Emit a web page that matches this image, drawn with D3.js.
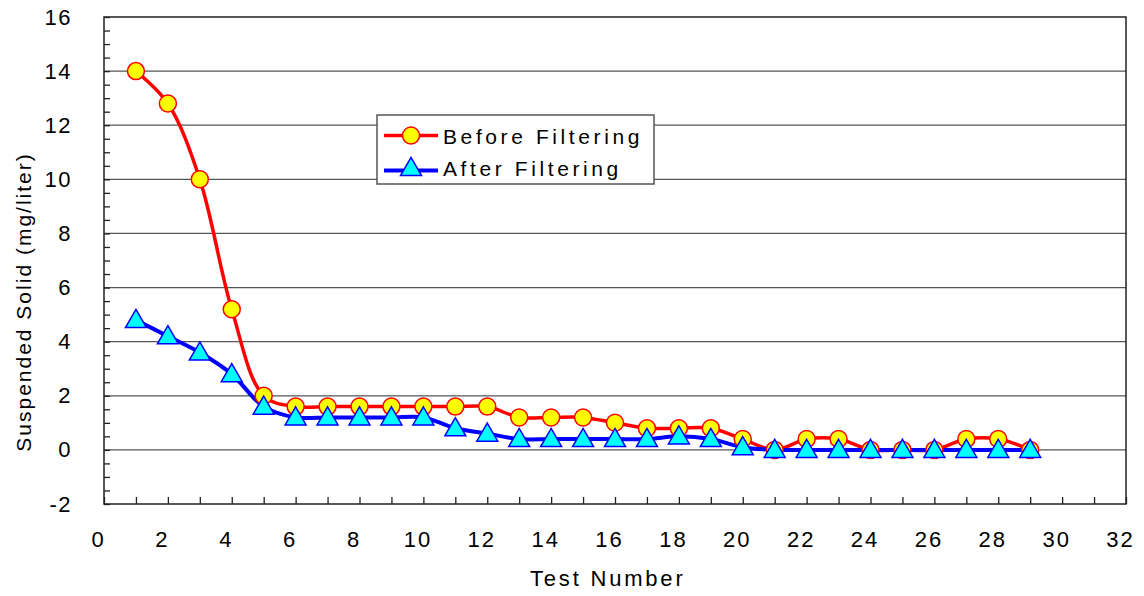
<!DOCTYPE html>
<html>
<head>
<meta charset="utf-8">
<script src="https://cdn.jsdelivr.net/npm/d3@7"></script>
<style>
  body { margin: 0; background: #fff; }
  svg { display: block; font-family: "Liberation Sans", Arial, sans-serif; }
</style>
</head>
<body>
<svg width="1144" height="596"></svg>
<script>
// test numbers and measured suspended solids (mg/liter)
const tests = d3.range(1, 30);
const before = [14, 12.8, 10, 5.2, 2, 1.6, 1.6, 1.6, 1.6, 1.6, 1.6, 1.6, 1.2, 1.2, 1.2,
                1.0, 0.8, 0.8, 0.8, 0.4, 0, 0.4, 0.4, 0, 0, 0, 0.4, 0.4, 0];
const after = [4.8, 4.2, 3.6, 2.8, 1.6, 1.2, 1.2, 1.2, 1.2, 1.2, 0.8, 0.6, 0.4, 0.4, 0.4,
               0.4, 0.4, 0.5, 0.4, 0.1, 0, 0, 0, 0, 0, 0, 0, 0, 0];
const seriesNames = ["Before Filtering", "After Filtering"];
const xTicks = d3.range(0, 33);
const yTicks = d3.range(-2, 16.01, 0.5);
const yGrid = d3.range(-2, 17, 2);

const svg = d3.select("svg");

const x = d3.scaleLinear().domain([0, 32]).range([104, 1126]);
const y = d3.scaleLinear().domain([-2, 16]).range([504, 17]);

// horizontal grid lines
svg.append("g")
    .selectAll("line")
    .data(yGrid.filter(v => v > -2 && v < 16))
    .join("line")
    .attr("x1", x(0)).attr("x2", x(32))
    .attr("y1", d => y(d)).attr("y2", d => y(d))
    .attr("stroke", "#555")
    .attr("stroke-width", 1.3);

// x axis, ticks pointing inward
const xAxis = svg.append("g")
    .attr("transform", `translate(0,${y(-2)})`)
    .call(d3.axisBottom(x)
        .tickValues(xTicks)
        .tickSizeInner(-7)
        .tickSizeOuter(0)
        .tickPadding(27)
        .tickFormat(d => d % 2 === 0 ? String(d) : ""));
xAxis.select(".domain").remove();
xAxis.selectAll("line").attr("stroke", "#222").attr("stroke-width", 1.3);
xAxis.selectAll("text")
    .attr("dx", -6)
    .attr("font-size", 22)
    .attr("letter-spacing", 2)
    .attr("fill", "#000")
    .attr("font-family", "Liberation Sans, Arial, sans-serif");

// y axis, minor ticks every 0.5
const yAxis = svg.append("g")
    .attr("transform", `translate(${x(0)},0)`)
    .call(d3.axisLeft(y)
        .tickValues(yTicks)
        .tickSizeInner(-6)
        .tickSizeOuter(0)
        .tickPadding(32)
        .tickFormat(d => d % 2 === 0 ? String(d) : ""));
yAxis.select(".domain").remove();
yAxis.selectAll("line").attr("stroke", "#222").attr("stroke-width", 1.3);
yAxis.selectAll("text")
    .attr("font-size", 22)
    .attr("letter-spacing", 1.5)
    .attr("fill", "#000")
    .attr("font-family", "Liberation Sans, Arial, sans-serif");

// plot frame
svg.append("rect")
    .attr("x", x(0)).attr("y", y(16))
    .attr("width", x(32) - x(0)).attr("height", y(-2) - y(16))
    .attr("fill", "none")
    .attr("stroke", "#222")
    .attr("stroke-width", 1.5);

const line = d3.line()
    .x((d, i) => x(tests[i]))
    .y(d => y(d))
    .curve(d3.curveCatmullRom.alpha(0.5));

svg.append("path")
    .datum(before)
    .attr("d", line)
    .attr("fill", "none")
    .attr("stroke", "#ff0000")
    .attr("stroke-width", 3.5);

svg.append("path")
    .datum(after)
    .attr("d", line)
    .attr("fill", "none")
    .attr("stroke", "#0000ff")
    .attr("stroke-width", 4);

const tri = d3.symbol().type(d3.symbolTriangle).size(190);

svg.append("g")
    .selectAll("circle")
    .data(before)
    .join("circle")
    .attr("cx", (d, i) => x(tests[i]))
    .attr("cy", d => y(d))
    .attr("r", 8.5)
    .attr("fill", "#ffff00")
    .attr("stroke", "#ff0000")
    .attr("stroke-width", 1.5);

svg.append("g")
    .selectAll("path")
    .data(after)
    .join("path")
    .attr("d", tri)
    .attr("transform", (d, i) => `translate(${x(tests[i])},${y(d) + 1.5})`)
    .attr("fill", "#00ffff")
    .attr("stroke", "#0000ff")
    .attr("stroke-width", 1.5);

// legend
const legend = svg.append("g");
legend.append("rect")
    .attr("x", 377).attr("y", 115)
    .attr("width", 277).attr("height", 69)
    .attr("fill", "#fff")
    .attr("stroke", "#555")
    .attr("stroke-width", 1.5);

const rows = [
  {name: seriesNames[0], color: "#ff0000", w: 3.5, cy: 135.5, ty: 143.5},
  {name: seriesNames[1], color: "#0000ff", w: 4, cy: 170.5, ty: 176}
];
rows.forEach((r, i) => {
  legend.append("line")
      .attr("x1", 384).attr("x2", 438)
      .attr("y1", r.cy).attr("y2", r.cy)
      .attr("stroke", r.color)
      .attr("stroke-width", r.w);
  if (i === 0) {
    legend.append("circle")
        .attr("cx", 411).attr("cy", r.cy).attr("r", 8.5)
        .attr("fill", "#ffff00").attr("stroke", "#ff0000").attr("stroke-width", 1.5);
  } else {
    legend.append("path")
        .attr("d", tri)
        .attr("transform", `translate(411,${r.cy - 1})`)
        .attr("fill", "#00ffff").attr("stroke", "#0000ff").attr("stroke-width", 1.5);
  }
  legend.append("text")
      .attr("x", 443).attr("y", r.ty)
      .attr("font-size", 21)
      .attr("letter-spacing", 3.6)
      .text(r.name);
});

// axis titles
svg.append("text")
    .attr("x", 530).attr("y", 586)
    .attr("font-size", 22)
    .attr("letter-spacing", 2.8)
    .text("Test Number");

svg.append("text")
    .attr("transform", "translate(31,302) rotate(-90)")
    .attr("text-anchor", "middle")
    .attr("font-size", 21)
    .attr("letter-spacing", 2)
    .text("Suspended Solid (mg/liter)");
</script>
</body>
</html>
